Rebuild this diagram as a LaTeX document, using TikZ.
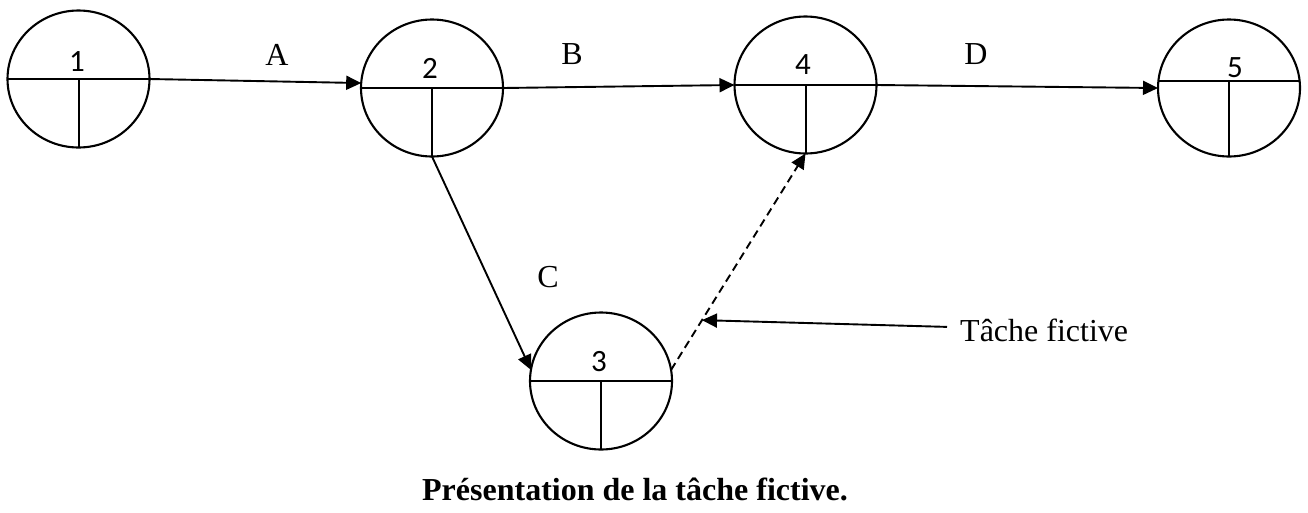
\documentclass[tikz,border=0pt]{standalone}
\usepackage{fontspec}
\setmainfont{Liberation Serif}
\newfontfamily\digitfont{Carlito}
\usetikzlibrary{shapes.geometric,arrows.meta}
\begin{document}
\begin{tikzpicture}[x=1pt,y=-1pt,
  event/.style={draw, ellipse, line width=2.1pt, inner sep=0pt, outer sep=0pt,
                minimum width=142pt, minimum height=137pt},
  split/.style={line width=2pt},
  num/.style={font=\digitfont\fontsize{31}{36}\selectfont, inner sep=0pt},
  lbl/.style={font=\fontsize{32}{38}\selectfont, inner sep=0pt},
  task/.style={line width=1.9pt, -{Triangle[length=15pt,width=14pt]}},
  fictive/.style={task, dash pattern=on 8pt off 5pt}]
\useasboundingbox (0,0) rectangle (1308,512);

% events
\node[event] (n1) at (78.5,79) {};
\node[event] (n2) at (432,88) {};
\node[event] (n4) at (805.5,85) {};
\node[event] (n5) at (1229,88) {};
\node[event] (n3) at (601,381) {};

% divisions
\foreach \n in {n1,n2,n4,n3}{
  \draw[split] (\n.west) -- (\n.east);
  \draw[split] (\n.center) -- (\n.south);
}
\draw[split] (n5.174) -- (n5.6);
\draw[split] (n5.south |- n5.174) -- (n5.south);

% numbers
\node[num] (t1) at (77,62) {1};
\node[num] (t2) at (430,68) {2};
\node[num] (t4) at (803,65) {4};
\node[num] (t5) at (1235,68) {5};
\node[num] (t3) at (599,362) {3};

% tasks
\draw[task] (n1.east) -- (n2.176);
\draw[task] (n2.east) -- (n4.west);
\draw[task] (n4.east) -- (n5.west);
\draw[task] (n2.south) -- (n3.171);
\draw[fictive] (n3.9) -- coordinate[pos=0.23] (fp) (n4.south);

% task labels
\node[lbl] (lA) at (277,55) {A};
\node[lbl] (lB) at (572,54) {B};
\node[lbl] (lD) at (976,54) {D};
\node[lbl] (lC) at (548,277) {C};

% fictive task pointer
\node[lbl, anchor=base west, inner xsep=13pt] (tf) at (947,341) {Tâche fictive};
\draw[task] ([yshift=3pt]tf.west) -- (fp);

% caption
\node[font=\bfseries\fontsize{32}{38}\selectfont, anchor=base, inner sep=0pt] (cap) at (635,500) {Présentation de la tâche fictive.};
\end{tikzpicture}
\end{document}
